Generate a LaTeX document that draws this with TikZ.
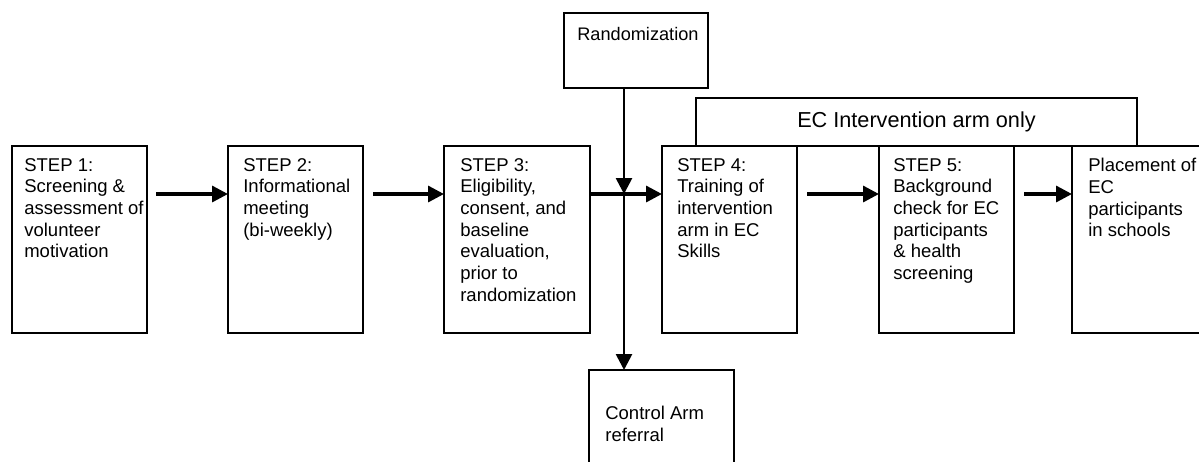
\documentclass[tikz,border=0pt]{standalone}
\usepackage{fontspec}
\setmainfont{Liberation Sans}
\usetikzlibrary{arrows.meta,positioning,calc}

\tikzset{
  stepbox/.style={draw, line width=1.1pt, minimum width=81pt, minimum height=112.2pt, inner sep=0pt, outer sep=0pt},
  steptext/.style={anchor=north west, align=left, inner sep=0pt, font=\fontsize{11.1}{13}\selectfont},
  flow/.style={-{Triangle[length=9.5pt,width=9.5pt]}, line width=2pt},
  split/.style={-{Triangle[length=9.5pt,width=9.5pt]}, line width=1.6pt},
}

\begin{document}
\begin{tikzpicture}[x=0.6pt,y=-0.6pt]
 \useasboundingbox (0,0) rectangle (1199,461);

 % step boxes
 \node[stepbox] (s1) at (79.5,239.5) {};
 \node[stepbox, right=48.6pt of s1] (s2) {};
 \node[stepbox, minimum width=87.6pt, right=48.6pt of s2] (s3) {};
 \node[stepbox, right=43.2pt of s3] (s4) {};
 \node[stepbox, right=49.2pt of s4] (s5) {};
 \node[stepbox, right=34.8pt of s5] (s6) {};

 \node[steptext] (t1) at ([shift={(12,12)}]s1.north west) {STEP 1:\\Screening \&\\assessment of\\volunteer\\motivation};
 \node[steptext] (t2) at ([shift={(15,12)}]s2.north west) {STEP 2:\\Informational\\meeting\\(bi-weekly)};
 \node[steptext] (t3) at ([shift={(16,12)}]s3.north west) {STEP 3:\\Eligibility,\\consent, and\\baseline\\evaluation,\\prior to\\randomization};
 \node[steptext] (t4) at ([shift={(15,12)}]s4.north west) {STEP 4:\\Training of\\intervention\\arm in EC\\Skills};
 \node[steptext] (t5) at ([shift={(14,12)}]s5.north west) {STEP 5:\\Background\\check for EC\\participants\\\& health\\screening};
 \node[steptext] (t6) at ([shift={(16,12)}]s6.north west) {Placement of\\EC\\participants\\in schools};

 % randomization and control arm
 \node[stepbox, minimum width=86.4pt, minimum height=45pt] (rand) at (636,50.5) {};
 \node[steptext, font=\fontsize{10.9}{12.5}\selectfont] (trand) at ([shift={(13,14)}]rand.north west) {Randomization};
 \node[stepbox, minimum width=87pt, minimum height=64.8pt] (ctrl) at (661.5,424) {};
 \node[steptext] (tctrl) at ([shift={(16,36)}]ctrl.north west) {Control Arm\\referral};

 % intervention arm banner
 \node[stepbox, minimum width=264.6pt, minimum height=28.8pt, font=\fontsize{13}{15}\selectfont] (ec) at (916.5,122) {EC Intervention arm only};

 % arrows
 \draw[flow] ([shift={(9,48)}]s1.north east) -- ([shift={(0,48)}]s2.north west);
 \draw[flow] ([shift={(10,48)}]s2.north east) -- ([shift={(0,48)}]s3.north west);
 \draw[flow] ([shift={(0,48)}]s3.north east) -- ([shift={(0,48)}]s4.north west);
 \draw[flow] ([shift={(10,48)}]s4.north east) -- ([shift={(0,48)}]s5.north west);
 \draw[flow] ([shift={(10,48)}]s5.north east) -- ([shift={(0,48)}]s6.north west);

 \coordinate (cross) at (624,194);
 \draw[split] (cross |- rand.south) -- (cross);
 \draw[split] (cross) -- (cross |- ctrl.north);
\end{tikzpicture}
\end{document}
